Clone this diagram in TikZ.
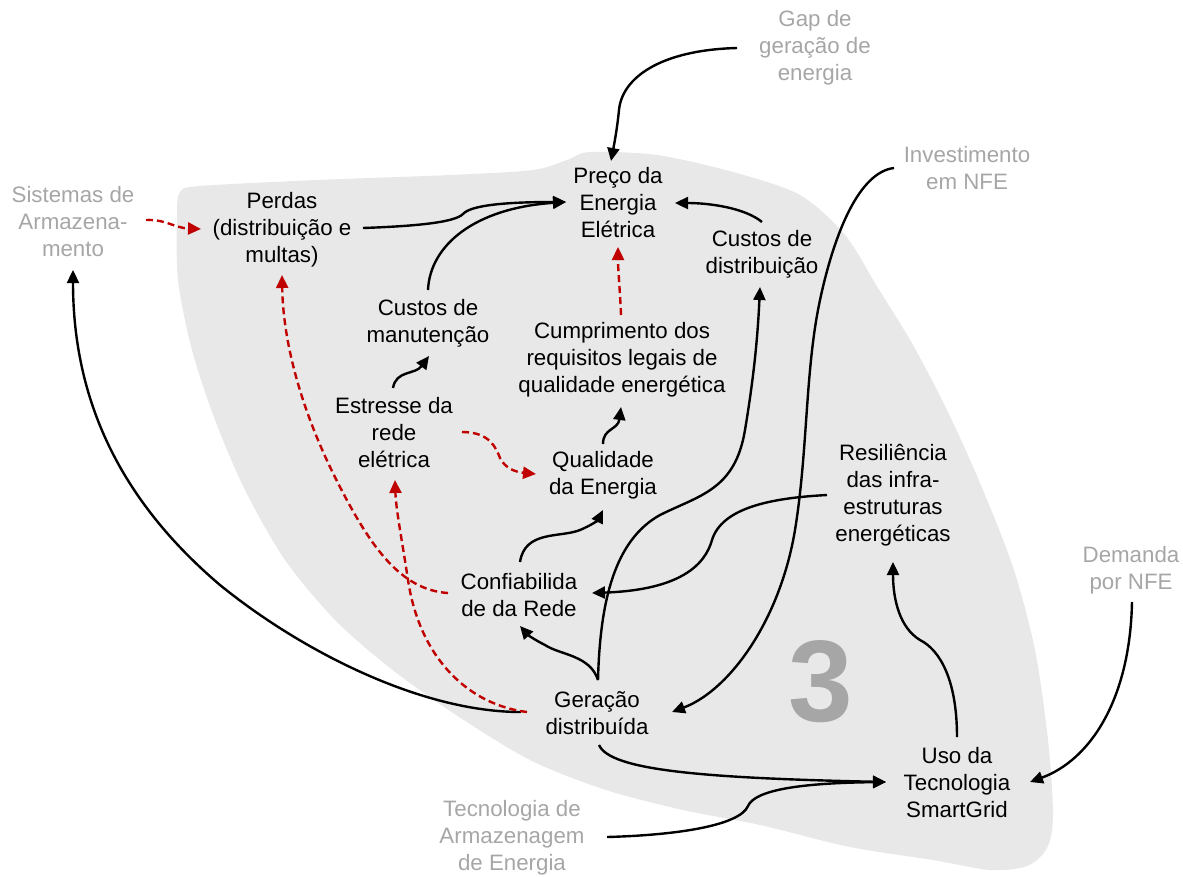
\documentclass[tikz,border=0pt]{standalone}
\usepackage{fontspec}
\setmainfont{Liberation Sans}
\usetikzlibrary{arrows.meta,calc}
\definecolor{blobgray}{HTML}{E8E8E8}
\definecolor{outer}{HTML}{A6A6A6}
\definecolor{neg}{HTML}{C00000}
\begin{document}
\begin{tikzpicture}[x=1pt,y=-1pt,
  lbl/.style={align=center,inner sep=0pt,font=\fontsize{22.3}{27}\selectfont},
  txt/.style={lbl,text=black},
  exttxt/.style={lbl,text=outer},
  plink/.style={draw=black,line width=2.4pt,-{Triangle[length=13pt,width=12pt]}},
  nlink/.style={draw=neg,line width=2.4pt,dash pattern=on 7pt off 4pt,-{Triangle[length=13pt,width=12pt]}},
]
\useasboundingbox (0,0) rectangle (1183,876);

% shaded region of the subsystem
\fill[blobgray] plot[smooth cycle, tension=0.5] coordinates {
  (180,192) (200,186) (317,180) (450,175) (533,170) (567,160) (590,152)
  (657,155) (733,172) (800,195) (845,235) (878,288) (913,345) (947,410)
  (980,483) (1013,567) (1035,650) (1048,740) (1053,815) (1047,848)
  (1027,866) (990,870) (933,860) (850,847) (760,825) (683,810) (606,790)
  (530,760) (453,713) (390,668) (335,620) (285,560) (245,490) (215,420)
  (192,350) (178,280) (177,215)};

\node[font=\fontsize{116}{116}\selectfont\bfseries, text=outer, inner sep=0pt] (three) at (821,682) {3};

% variables inside the subsystem
\node[txt] (preco) at (618,203) {Preço da\\Energia\\Elétrica};
\node[txt] (perdas) at (282,230) {Perdas\\(distribuição e\\multas)};
\node[txt] (cdist) at (762,254) {Custos de\\distribuição};
\node[txt] (cman) at (428,323) {Custos de\\manutenção};
\node[txt] (cump) at (622,360) {Cumprimento dos\\requisitos legais de\\qualidade energética};
\node[txt] (estr) at (394,433) {Estresse da\\rede\\elétrica};
\node[txt] (qual) at (603,475) {Qualidade\\da Energia};
\node[txt] (resil) at (893,495) {Resiliência\\das infra-\\estruturas\\energéticas};
\node[txt] (conf) at (519,595) {Confiabilida\\de da Rede};
\node[txt] (ger) at (597,713) {Geração\\distribuída};
\node[txt] (uso) at (957,783) {Uso da\\Tecnologia\\SmartGrid};

% external variables
\node[exttxt] (gap) at (815,48) {Gap de\\geração de\\energia};
\node[exttxt] (invest) at (967,168) {Investimento\\em NFE};
\node[exttxt] (sist) at (73,222) {Sistemas de\\Armazena-\\mento};
\node[exttxt] (dem) at (1131,570) {Demanda\\por NFE};
\node[exttxt] (tecarm) at (512,838) {Tecnologia de\\Armazenagem\\de Energia};

% positive links
\draw[plink] ($(gap)+(-78,0)$) .. controls (660,50) and (622,78) .. (619,110)
  .. controls (617,130) and (614,145) .. ($(preco)+(-7,-42)$);
\draw[plink] ($(invest)+(-73,0)$) .. controls (860,172) and (835,230) .. (820,300)
  .. controls (805,370) and (808,450) .. (795,530)
  .. controls (780,620) and (730,690) .. ($(ger)+(75,-1)$);
\draw[plink] ($(cdist)+(0,-32)$) .. controls (745,208) and (710,203) .. ($(preco)+(57,0)$);
\draw[plink] ($(perdas)+(81,-2)$) .. controls (420,226) and (455,222) .. (463,214)
  .. controls (470,206) and (500,202) .. ($(preco)+(-52,-1)$);
\draw[plink] ($(cman)+(0,-33)$) .. controls (430,245) and (475,208) .. ($(preco)+(-52,-1)$);
\draw[plink] ($(estr)+(-1,-45)$) .. controls (396,370) and (415,375) .. ($(cman)+(1,33)$);
\draw[plink] ($(qual)+(0,-31)$) .. controls (603,428) and (618,430) .. ($(cump)+(-1,47)$);
\draw[plink] ($(conf)+(1,-33)$) .. controls (525,530) and (560,538) .. (580,530)
  .. controls (592,525) and (598,520) .. ($(qual)+(0,35)$);
\draw[plink] ($(ger)+(1,-33)$) .. controls (600,600) and (615,540) .. (660,515)
  .. controls (700,495) and (735,490) .. (745,430)
  .. controls (755,370) and (758,330) .. ($(cdist)+(-2,33)$);
\draw[plink] ($(ger)+(1,-33)$) .. controls (590,655) and (560,655) .. (545,645)
  .. controls (535,640) and (528,635) .. ($(conf)+(1,31)$);
\draw[plink] ($(resil)+(-66,0)$) .. controls (770,498) and (722,508) .. (712,540)
  .. controls (705,565) and (680,590) .. ($(conf)+(73,-2)$);
\draw[plink] ($(uso)+(0,-46)$) .. controls (957,680) and (940,650) .. (920,640)
  .. controls (900,628) and (893,600) .. ($(resil)+(0,67)$);
\draw[plink] ($(dem)+(1,32)$) .. controls (1130,700) and (1090,760) .. ($(uso)+(73,-1)$);
\draw[plink] ($(ger)+(2,32)$) .. controls (610,770) and (700,778) .. ($(uso)+(-71,-1)$);
\draw[plink] ($(tecarm)+(95,-1)$) .. controls (680,835) and (740,825) .. (748,806)
  .. controls (755,790) and (800,783) .. ($(uso)+(-71,-1)$);
\draw[plink] ($(ger)+(-76,-1)$) .. controls (420,712) and (300,650) .. (220,585)
  .. controls (120,500) and (73,400) .. ($(sist)+(0,48)$);

% negative links
\draw[nlink] ($(sist)+(73,-2)$) .. controls (165,219) and (175,228) .. ($(perdas)+(-81,-1)$);
\draw[nlink] ($(conf)+(-71,-2)$) .. controls (400,590) and (370,545) .. (340,487)
  .. controls (300,410) and (283,340) .. ($(perdas)+(0,45)$);
\draw[nlink] ($(ger)+(-70,-1)$) .. controls (470,705) and (420,660) .. (408,580)
  .. controls (402,540) and (396,510) .. ($(estr)+(1,47)$);
\draw[nlink] ($(estr)+(68,-1)$) .. controls (490,432) and (496,448) .. (500,458)
  .. controls (505,468) and (515,472) .. ($(qual)+(-67,-1)$);
\draw[nlink] ($(cump)+(-1,-45)$) .. controls (620,290) and (618,270) .. ($(preco)+(0,44)$);
\end{tikzpicture}
\end{document}
